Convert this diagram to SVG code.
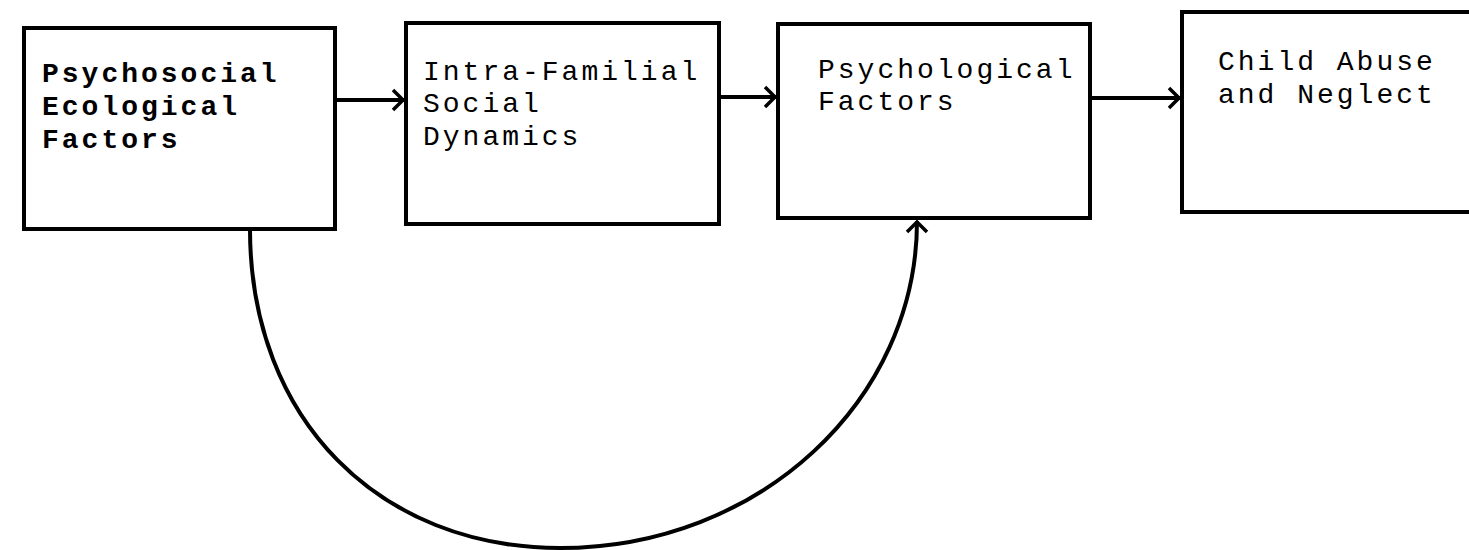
<svg xmlns="http://www.w3.org/2000/svg" width="1469" height="550" viewBox="0 0 1469 550">
<style>
.box{fill:#fff;stroke:#000;stroke-width:4}
.lbl{font-family:"Liberation Mono","Courier New",monospace;font-size:28px;letter-spacing:3px;fill:#000}
.b{font-weight:bold}
.con{fill:none;stroke:#000;stroke-width:4}
</style>
<defs>
<marker id="arr2" viewBox="0 0 14 24" refX="13" refY="12" markerWidth="14" markerHeight="24" markerUnits="userSpaceOnUse" orient="auto">
<path d="M2,2 L12,12 L2,22" fill="none" stroke="#000" stroke-width="3.5"/>
</marker>
</defs>
<rect width="1469" height="550" fill="#fff"/>
<g id="n1">
<rect class="box" x="24" y="28" width="311" height="201"/>
<text class="lbl b" x="42" y="82">Psychosocial</text>
<text class="lbl b" x="42" y="115">Ecological</text>
<text class="lbl b" x="42" y="148">Factors</text>
</g>
<g id="n2">
<rect class="box" x="406" y="23" width="313" height="201"/>
<text class="lbl" x="423" y="80">Intra-Familial</text>
<text class="lbl" x="423" y="112">Social</text>
<text class="lbl" x="423" y="145">Dynamics</text>
</g>
<g id="n3">
<rect class="box" x="778" y="24" width="312" height="194"/>
<text class="lbl" x="818" y="78">Psychological</text>
<text class="lbl" x="818" y="110">Factors</text>
</g>
<g id="n4">
<rect class="box" x="1182" y="12" width="300" height="200"/>
<text class="lbl" x="1218" y="70">Child Abuse</text>
<text class="lbl" x="1218" y="103">and Neglect</text>
</g>
<g id="connectors">
<line class="con" x1="335" y1="100" x2="404" y2="100" marker-end="url(#arr2)"/>
<line class="con" x1="719" y1="97" x2="776" y2="97" marker-end="url(#arr2)"/>
<line class="con" x1="1090" y1="98" x2="1180" y2="98" marker-end="url(#arr2)"/>
<path class="con" d="M250,229 C250,420 380,548 560,548 C760,548 917,400 917,221" marker-end="url(#arr2)"/>
</g>
</svg>
